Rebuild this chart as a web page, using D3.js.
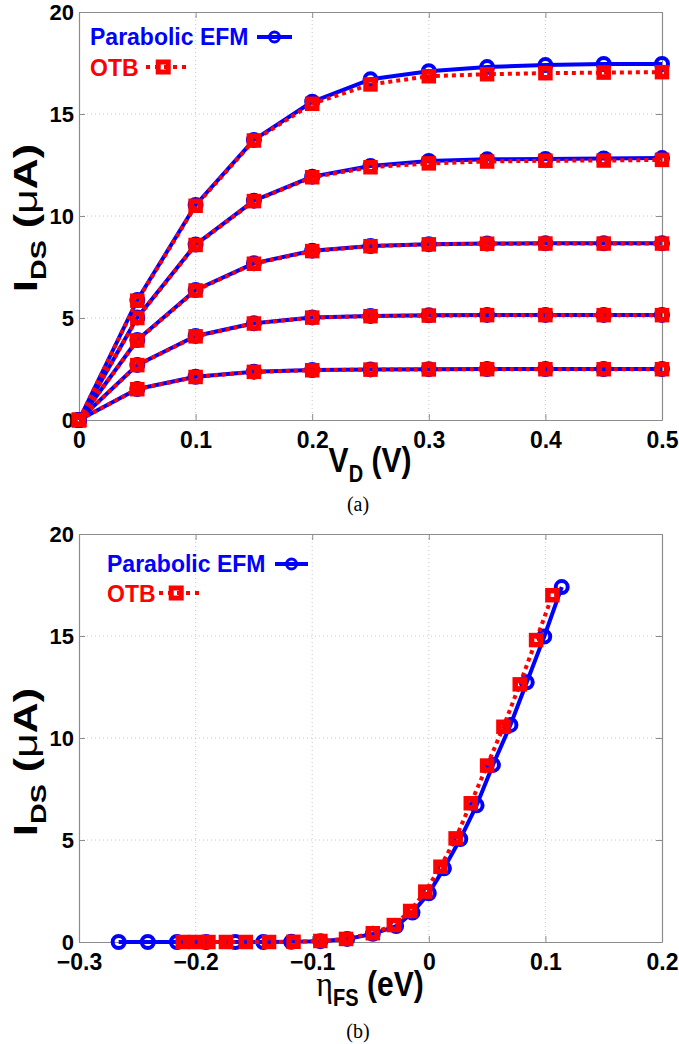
<!DOCTYPE html>
<html><head><meta charset="utf-8">
<script src="https://cdn.jsdelivr.net/npm/d3@7"></script>
<style>body{margin:0;background:#fff}svg{display:block}</style>
</head><body>
<svg id="c" width="679" height="1044"></svg>
<script>
// ---- data: panel (a) ----
const vd = [0, 0.05, 0.1, 0.15, 0.2, 0.25, 0.3, 0.35, 0.4, 0.45, 0.5];
const efm1 = [0, 5.88, 10.54, 13.73, 15.6, 16.7, 17.1, 17.3, 17.4, 17.45, 17.45];
const otb1 = [0, 5.85, 10.5, 13.7, 15.5, 16.45, 16.85, 16.95, 17.0, 17.03, 17.05];
const efm2 = [0, 5.03, 8.6, 10.75, 11.93, 12.45, 12.7, 12.78, 12.8, 12.82, 12.84];
const otb2 = [0, 5.0, 8.58, 10.73, 11.9, 12.39, 12.58, 12.67, 12.71, 12.72, 12.75];
const efm3 = [0, 3.92, 6.37, 7.68, 8.3, 8.53, 8.62, 8.65, 8.66, 8.66, 8.66];
const otb3 = [0, 3.9, 6.35, 7.66, 8.28, 8.52, 8.61, 8.64, 8.65, 8.65, 8.65];
const efm4 = [0, 2.7, 4.12, 4.74, 5.03, 5.1, 5.13, 5.15, 5.15, 5.15, 5.15];
const otb4 = [0, 2.69, 4.1, 4.73, 5.02, 5.09, 5.12, 5.14, 5.14, 5.14, 5.14];
const efm5 = [0, 1.52, 2.12, 2.37, 2.45, 2.48, 2.49, 2.5, 2.5, 2.5, 2.5];
const otb5 = [0, 1.51, 2.11, 2.36, 2.44, 2.47, 2.48, 2.49, 2.49, 2.49, 2.49];
// ---- data: panel (b) ----
const etaEfm = [-0.266,-0.241,-0.216,-0.191,-0.166,-0.142,-0.118,-0.093,-0.070,-0.048,-0.028,-0.014,0.000,0.013,0.027,0.041,0.055,0.070,0.084,0.099,0.114];
const idsEfm = [0,0,0,0,0,0,0.01,0.04,0.15,0.4,0.78,1.44,2.39,3.61,5.05,6.7,8.68,10.64,12.73,14.97,17.4];
const etaOtb = [-0.211,-0.200,-0.189,-0.174,-0.157,-0.137,-0.116,-0.093,-0.071,-0.048,-0.030,-0.016,-0.003,0.010,0.023,0.036,0.050,0.064,0.078,0.092,0.106];
const idsOtb = [0,0,0,0,0,0,0.01,0.05,0.15,0.43,0.83,1.52,2.47,3.69,5.08,6.8,8.65,10.55,12.63,14.8,17.0];
// ---- ticks / labels ----
const yTicks = [0, 5, 10, 15, 20];
const xTicksA = [0, 0.1, 0.2, 0.3, 0.4, 0.5];
const xTicksB = [-0.3, -0.2, -0.1, 0, 0.1, 0.2];
const legendNames = ["Parabolic EFM", "OTB"];

const BLUE = "#0000ff", RED = "#ff0000";
const FONT = "'Liberation Sans', Arial, Helvetica, sans-serif";
const SERIF = "'Liberation Serif', 'Times New Roman', serif";
const svg = d3.select("#c");

function panel(cfg) {
  const {x0, x1, y0, y1, xDomain, xTicks, fmt} = cfg;
  const x = d3.scaleLinear().domain(xDomain).range([x0, x1]);
  const y = d3.scaleLinear().domain([0, 20]).range([y1, y0]);
  const g = svg.append("g");
  g.append("g").selectAll("line").data(xTicks.slice(1, -1)).join("line")
    .attr("x1", d => x(d)).attr("x2", d => x(d)).attr("y1", y0).attr("y2", y1)
    .attr("stroke", "#c8c8c8").attr("stroke-width", 1).attr("stroke-dasharray", "1,3");
  g.append("g").selectAll("line").data(yTicks.slice(1, -1)).join("line")
    .attr("x1", x0).attr("x2", x1).attr("y1", d => y(d)).attr("y2", d => y(d))
    .attr("stroke", "#c8c8c8").attr("stroke-width", 1).attr("stroke-dasharray", "1,3");
  const axB = g.append("g").attr("transform", `translate(0,${y1})`)
    .call(d3.axisBottom(x).tickValues(xTicks).tickFormat(fmt).tickSizeInner(-6).tickSizeOuter(0).tickPadding(11));
  const axL = g.append("g").attr("transform", `translate(${x0},0)`)
    .call(d3.axisLeft(y).tickValues(yTicks).tickFormat(d3.format("d")).tickSizeInner(-6).tickSizeOuter(0).tickPadding(5));
  const axT = g.append("g").attr("transform", `translate(0,${y0})`)
    .call(d3.axisTop(x).tickValues(xTicks).tickFormat("").tickSizeInner(-6).tickSizeOuter(0));
  const axR = g.append("g").attr("transform", `translate(${x1},0)`)
    .call(d3.axisRight(y).tickValues(yTicks).tickFormat("").tickSizeInner(-6).tickSizeOuter(0));
  [axB, axL, axT, axR].forEach(a => {
    a.select(".domain").attr("stroke", "#8c8c8c").attr("stroke-width", 1.2);
    a.selectAll(".tick line").attr("stroke", "#8c8c8c");
    a.selectAll("text").attr("fill", "#000").attr("font-family", FONT)
      .attr("font-weight", "bold").attr("font-size", 23);
  });
  axB.selectAll("text").attr("dy", "0.75em");
  axL.selectAll("text").attr("font-size", 22).attr("dy", "0.36em");
  return {g, x, y};
}

function drawPair(g, x, y, xs1, ys1, xs2, ys2) {
  const line = d3.line().x(d => x(d[0])).y(d => y(d[1]));
  const p1 = xs1.map((v, i) => [v, ys1[i]]);
  const p2 = xs2.map((v, i) => [v, ys2[i]]);
  g.append("path").datum(p1).attr("d", line).attr("fill", "none")
    .attr("stroke", BLUE).attr("stroke-width", 4).attr("stroke-linejoin", "round");
  g.append("g").selectAll("circle").data(p1).join("circle")
    .attr("cx", d => x(d[0])).attr("cy", d => y(d[1])).attr("r", 6)
    .attr("fill", "none").attr("stroke", BLUE).attr("stroke-width", 4);
  g.append("path").datum(p2).attr("d", line).attr("fill", "none")
    .attr("stroke", RED).attr("stroke-width", 4).attr("stroke-dasharray", "4,4");
  g.append("g").selectAll("rect").data(p2).join("rect")
    .attr("x", d => x(d[0]) - 4.5).attr("y", d => y(d[1]) - 4.5).attr("width", 9).attr("height", 9)
    .attr("fill", "none").attr("stroke", RED).attr("stroke-width", 5.5);
}

function legend(lx, ly1, ly2, efmLine, otbLine) {
  svg.append("text").attr("x", lx).attr("y", ly1).text(legendNames[0])
    .attr("fill", BLUE).attr("font-family", FONT).attr("font-weight", "bold").attr("font-size", 23);
  svg.append("line").attr("x1", efmLine[0]).attr("x2", efmLine[1]).attr("y1", ly1 - 8).attr("y2", ly1 - 8)
    .attr("stroke", BLUE).attr("stroke-width", 4);
  svg.append("circle").attr("cx", (efmLine[0] + efmLine[1]) / 2).attr("cy", ly1 - 8).attr("r", 5)
    .attr("fill", "none").attr("stroke", BLUE).attr("stroke-width", 3);
  svg.append("text").attr("x", lx).attr("y", ly2).text(legendNames[1])
    .attr("fill", RED).attr("font-family", FONT).attr("font-weight", "bold").attr("font-size", 23);
  svg.append("line").attr("x1", otbLine[0]).attr("x2", otbLine[1]).attr("y1", ly2 - 9).attr("y2", ly2 - 9)
    .attr("stroke", RED).attr("stroke-width", 4).attr("stroke-dasharray", "4,5");
  const cx = otbLine[0] + (otbLine[1] - otbLine[0]) * 0.42;
  svg.append("rect").attr("x", cx - 5).attr("y", ly2 - 14).attr("width", 10).attr("height", 10)
    .attr("fill", "none").attr("stroke", RED).attr("stroke-width", 5);
}

function ylabel(cx, cy) {
  const t = svg.append("text").attr("transform", `translate(${cx},${cy}) rotate(-90) scale(1.3,1)`)
    .attr("text-anchor", "middle").attr("font-family", FONT).attr("font-weight", "bold").attr("font-size", 33).attr("fill", "#000");
  t.append("tspan").text("I");
  t.append("tspan").text("DS").attr("font-size", 22).attr("dy", 9);
  t.append("tspan").text(" (").attr("dy", -9);
  t.append("tspan").text("μ").attr("font-weight", "normal");
  t.append("tspan").text("A)");
}

function xlabel(cx, by, sym, sub, unit, serifSym) {
  const t = svg.append("text").attr("transform", `translate(${cx},${by}) scale(1,1.15)`).attr("text-anchor", "middle")
    .attr("font-family", FONT).attr("font-weight", "bold").attr("font-size", 30).attr("fill", "#000");
  const s = t.append("tspan").text(sym);
  if (serifSym) s.attr("font-family", SERIF).attr("font-weight", "normal").attr("font-size", 32);
  t.append("tspan").text(sub).attr("font-size", 20).attr("dy", 9);
  t.append("tspan").text(unit).attr("dy", -9);
}

// ---- panel (a) ----
const fmtX = d => d === 0 ? "0" : d3.format(".1f")(d);
const A = panel({x0: 79, x1: 662, y0: 12, y1: 420, xDomain: [0, 0.5], xTicks: xTicksA, fmt: fmtX});
[[efm5, otb5], [efm4, otb4], [efm3, otb3], [efm2, otb2], [efm1, otb1]].forEach(([e, o]) => drawPair(A.g, A.x, A.y, vd, e, vd, o));
legend(90, 45, 76, [257, 292], [146, 187]);
ylabel(37, 218);
xlabel(370, 472, "V", "D", " (V)", false);
svg.append("text").attr("x", 358).attr("y", 511).attr("text-anchor", "middle")
  .attr("font-family", SERIF).attr("font-size", 20).text("(a)");

// ---- panel (b) ----
const B = panel({x0: 79, x1: 662, y0: 534, y1: 942, xDomain: [-0.3, 0.2], xTicks: xTicksB, fmt: fmtX});
drawPair(B.g, B.x, B.y, etaEfm, idsEfm, etaOtb, idsOtb);
legend(107, 572, 602, [275, 308], [159, 200]);
ylabel(37, 762);
xlabel(370, 996, "η", "FS", " (eV)", true);
svg.append("text").attr("x", 358).attr("y", 1038).attr("text-anchor", "middle")
  .attr("font-family", SERIF).attr("font-size", 20).text("(b)");
</script>
</body></html>
